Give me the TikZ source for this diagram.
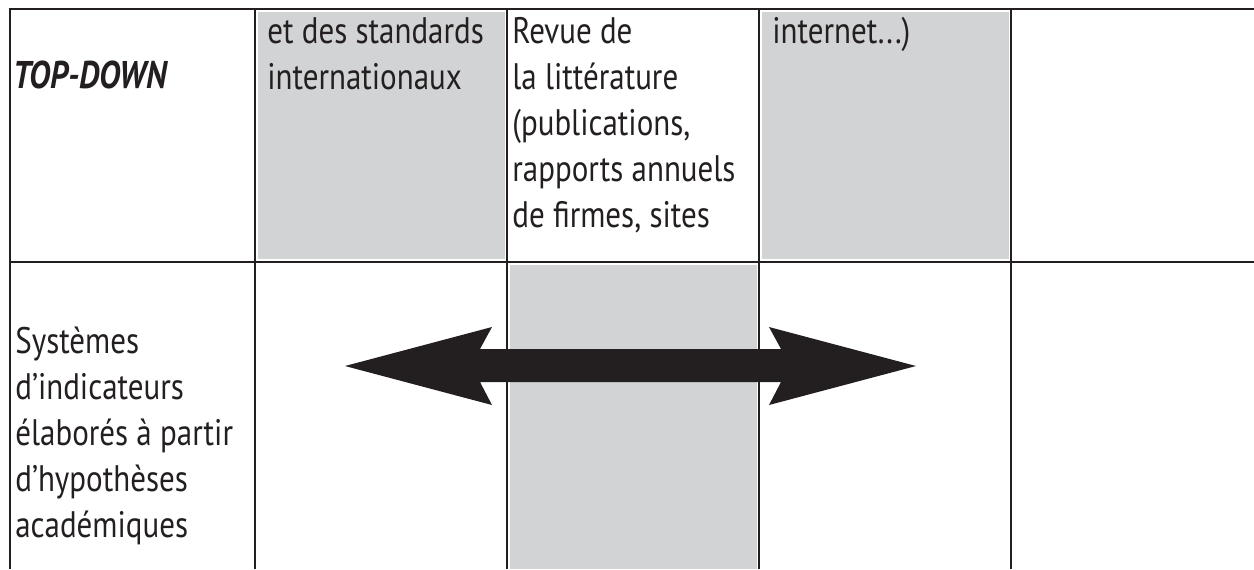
\documentclass[tikz,border=0pt]{standalone}
\usepackage{fontspec}
\setmainfont[FakeStretch=0.84]{PT Sans}
\usepackage{xcolor}
\usetikzlibrary{positioning}
\definecolor{cellgray}{HTML}{D1D3D4}
\definecolor{ink}{HTML}{231F20}

\begin{document}
\begin{tikzpicture}[x=0.02cm,y=-0.02cm,
    rule/.style={draw=ink,line width=1.5pt},
    shade/.style={fill=cellgray},
    % base of a cell text = baseline of its last line
    cell/.style={anchor=base west,inner sep=0pt,align=left,text=ink,
      font=\fontsize{21pt}{26.1pt}\selectfont}
  ]
    \useasboundingbox (0,0) rectangle (1254,569);
    % grey cells
    \fill[shade] (258,12) rectangle (505,259);
    \fill[shade] (762,12) rectangle (1009,259);
    \fill[shade] (510,265) rectangle (757,569);
    % grid
    \draw[rule] (10,569) |- (1254,9);
    \draw[rule] (10,262) -- (1254,262);
    \foreach \x in {255,507,759,1011}
      \draw[rule] (\x,9) -- (\x,569);
    % texts
    \node[cell,font=\fontsize{22pt}{26.1pt}\selectfont\bfseries\itshape] (td) at (13,88) {TOP-DOWN};
    \node[cell] (std) at (267,89) {et des standards\\internationaux};
    \node[cell] (rev) at (512,227) {Revue de\\la littérature\\(publications,\\rapports annuels\\de firmes, sites};
    \node[cell] (web) at (772,43) {internet...)};
    \node[cell] (sys) at (15,537) {Systèmes\\d’indicateurs\\élaborés à partir\\d’hypothèses\\académiques};
    % double arrow
    \coordinate (tipL) at (345,366);
    \coordinate (tipR) at (916,366);
    \fill[ink] (tipL) -- (492,327) -- (480,349) -- (781,349) -- (769,327) -- (tipR)
      -- (769,405) -- (781,382) -- (480,382) -- (492,405) -- cycle;
  \end{tikzpicture}
\end{document}
